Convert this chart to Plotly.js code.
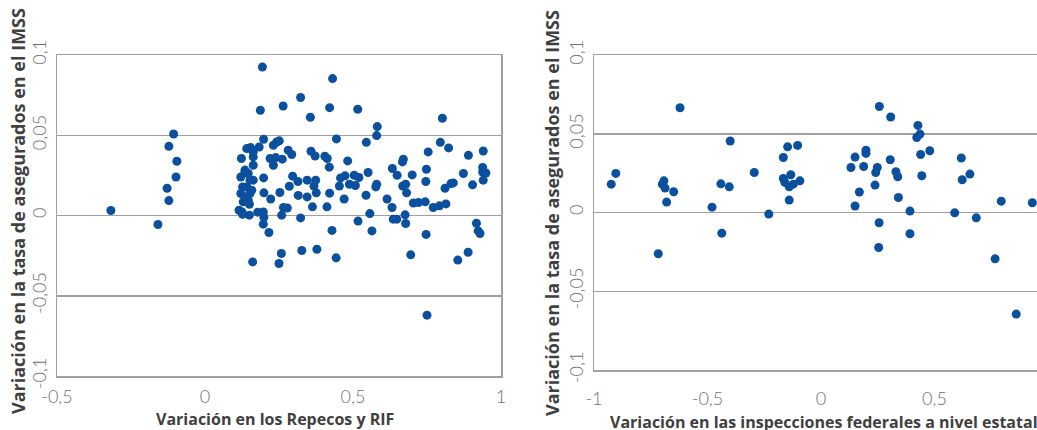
<!DOCTYPE html>
<html><head><meta charset="utf-8">
<script src="https://cdn.plot.ly/plotly-3.0.1.min.js"></script>
<style>html,body{margin:0;padding:0;overflow:hidden;background:#fff;width:1037px;height:430px}#chart{width:1060px;height:430px}</style>
</head><body><div id="chart"></div>
<script>
// Left panel: Variación en los Repecos y RIF vs variación en la tasa de asegurados IMSS
const leftX = [-0.318,-0.159,-0.106,-0.122,-0.095,-0.098,-0.128,-0.122,
0.194,0.431,0.323,0.264,0.187,0.421,0.516,0.356,0.802,0.582,0.580,0.444,0.198,0.545,0.795,0.823,0.940,0.754,0.890,
0.231,0.242,0.251,0.141,0.154,0.163,0.183,0.281,0.293,0.358,0.372,0.405,0.413,0.123,0.163,0.220,0.239,0.261,0.231,0.163,
0.420,0.482,0.670,0.667,0.633,0.748,0.938,0.938,0.949,0.940,0.873,0.551,0.649,0.700,0.296,0.314,0.345,0.374,0.368,0.376,
0.458,0.473,0.504,0.520,0.454,0.488,0.508,0.580,0.577,0.668,0.678,0.746,0.831,0.839,0.811,0.904,0.285,0.198,0.199,0.253,
0.222,0.315,0.345,0.421,0.470,0.544,0.681,0.615,0.632,0.704,0.721,0.744,0.771,0.792,0.814,0.363,0.412,0.265,0.278,0.259,
0.178,0.197,0.125,0.150,0.199,0.197,0.323,0.557,0.676,0.636,0.648,0.678,0.517,0.917,0.923,0.929,0.216,0.429,0.564,0.747,
0.161,0.250,0.258,0.327,0.378,0.443,0.695,0.854,0.889,0.750,
0.121,0.135,0.146,0.163,0.127,0.141,0.152,0.121,0.135,0.146,0.129,0.150,0.115,0.127,0.135,0.152,0.158];
const leftY = [0.0031,-0.0056,0.0508,0.0431,0.0338,0.0240,0.0170,0.0093,
0.0925,0.0853,0.0735,0.0682,0.0656,0.0672,0.0662,0.0612,0.0606,0.0554,0.0498,0.0477,0.0475,0.0456,0.0456,0.0421,0.0402,0.0396,0.0375,
0.0438,0.0458,0.0465,0.0417,0.0423,0.0396,0.0427,0.0407,0.0380,0.0400,0.0371,0.0369,0.0355,0.0355,0.0365,0.0355,0.0361,0.0351,0.0313,0.0313,
0.0301,0.0340,0.0351,0.0334,0.0293,0.0288,0.0299,0.0271,0.0265,0.0220,0.0262,0.0268,0.0251,0.0253,0.0245,0.0212,0.0220,0.0220,0.0184,0.0141,
0.0234,0.0247,0.0251,0.0237,0.0184,0.0195,0.0187,0.0195,0.0178,0.0184,0.0195,0.0212,0.0199,0.0203,0.0170,0.0191,0.0182,0.0234,0.0141,0.0143,
0.0103,0.0125,0.0116,0.0139,0.0103,0.0126,0.0141,0.0103,0.0050,0.0078,0.0081,0.0085,0.0050,0.0060,0.0072,0.0054,0.0054,0.0050,0.0047,0.0002,
0.0021,0.0022,0.0022,0.0002,-0.0012,-0.0054,-0.0015,0.0012,0.0004,-0.0023,-0.0023,-0.0050,-0.0035,-0.0048,-0.0096,-0.0112,-0.0106,-0.0093,-0.0096,-0.0118,
-0.0289,-0.0299,-0.0237,-0.0218,-0.0210,-0.0264,-0.0245,-0.0278,-0.0229,-0.0621,
0.0240,0.0271,0.0262,0.0220,0.0178,0.0178,0.0137,0.0137,0.0116,0.0095,0.0085,0.0070,0.0033,0.0008,0.0283,0.0220,0.0158];

// Right panel: Variación en las inspecciones federales a nivel estatal
const rightX = [-0.924,-0.904,-0.621,-0.400,-0.699,-0.692,-0.687,-0.649,-0.680,-0.480,-0.437,-0.441,-0.404,-0.294,-0.230,
-0.166,-0.147,-0.103,-0.133,-0.166,-0.159,-0.140,-0.122,-0.093,-0.140,
0.257,0.307,0.427,0.436,0.422,0.198,0.198,0.150,0.132,0.188,0.248,0.241,0.305,0.330,0.338,0.238,0.169,0.150,0.341,0.392,
0.256,0.392,0.439,0.479,0.444,0.618,0.656,0.622,0.589,0.684,0.794,0.931,-0.717,0.254,0.767,0.860];
const rightY = [0.0180,0.0248,0.0665,0.0454,0.0180,0.0201,0.0155,0.0132,0.0066,0.0034,-0.0131,0.0182,0.0163,0.0254,-0.0010,
0.0349,0.0417,0.0426,0.0240,0.0216,0.0191,0.0163,0.0180,0.0201,0.0079,
0.0673,0.0606,0.0553,0.0498,0.0476,0.0396,0.0375,0.0352,0.0286,0.0292,0.0286,0.0254,0.0335,0.0259,0.0227,0.0174,0.0130,0.0041,0.0095,0.0009,
-0.0065,-0.0135,0.0368,0.0392,0.0233,0.0346,0.0244,0.0208,-0.0002,-0.0034,0.0072,0.0062,-0.0262,-0.0222,-0.0294,-0.0645];

const yTickVals = [-0.1,-0.05,0,0.05,0.1];
const yTickText = ['-0,1','-0,05','0','0,05','0,1'];
const leftXTickVals = [-0.5,0,0.5,1];
const leftXTickText = ['-0,5','0','0,5','1'];
const rightXTickVals = [-1,-0.5,0,0.5,1];
const rightXTickText = ['-1','-0,5','0','0,5','1'];

const yTitle = 'Variación en la tasa de asegurados en el IMSS';
const leftXTitle = 'Variación en los Repecos y RIF';
const rightXTitle = 'Variación en las inspecciones federales a nivel estatal';

const W = 1060, H = 430;
const blue = '#0a509e';
const grid = '#a0a0a0';
const tickFont = {family:'Lato, "Open Sans", sans-serif', size:18, color:'#707070', weight:300};
const yTitleFont = {family:'"Open Sans", Lato, sans-serif', size:18, color:'#404040', weight:700};
const xTitleFont = {family:'"Open Sans", Lato, sans-serif', size:16, color:'#404040', weight:700};

const traces = [
  {type:'scatter', mode:'markers', x:leftX, y:leftY, xaxis:'x', yaxis:'y',
   marker:{color:blue, size:9}, hoverinfo:'x+y'},
  {type:'scatter', mode:'markers', x:rightX, y:rightY, xaxis:'x2', yaxis:'y2',
   marker:{color:blue, size:9}, hoverinfo:'x+y'}
];

function yAx(domain, anchor){
  return {domain:domain, anchor:anchor, range:[-0.1,0.1], tickvals:yTickVals, ticktext:yTickText,
    tickangle:-90, tickfont:tickFont, showgrid:true, gridcolor:grid, gridwidth:1.5,
    zeroline:false, showline:true, linecolor:grid, linewidth:1.5, mirror:true, ticks:'',
    ticklabelstandoff:2};
}
function xAx(domain, anchor, range, vals, text, standoff){
  return {domain:domain, anchor:anchor, range:range, tickvals:vals, ticktext:text,
    tickfont:tickFont, showgrid:false, zeroline:false, showline:true, linecolor:grid,
    linewidth:1.5, mirror:true, ticks:'', tickangle:0, ticklabelstandoff:standoff};
}

const layout = {
  width:W, height:H, margin:{l:0,r:0,t:0,b:0,pad:0},
  paper_bgcolor:'#fff', plot_bgcolor:'#fff', showlegend:false,
  xaxis: xAx([57/W, 501/W], 'y', [-0.5,1], leftXTickVals, leftXTickText, 4),
  yaxis: yAx([1-376/H, 1-55/H], 'x'),
  xaxis2: xAx([594/W, 1048/W], 'y2', [-1,1], rightXTickVals, rightXTickText, 12),
  yaxis2: yAx([1-370/H, 1-55/H], 'x2'),
  annotations:[
    {text:yTitle, xref:'paper', yref:'paper', x:18/W, y:1-211/H, textangle:-90,
     xanchor:'center', yanchor:'middle', showarrow:false, font:yTitleFont},
    {text:yTitle, xref:'paper', yref:'paper', x:552/W, y:1-213/H, textangle:-90,
     xanchor:'center', yanchor:'middle', showarrow:false, font:yTitleFont},
    {text:leftXTitle, xref:'paper', yref:'paper', x:275/W, y:1-419/H,
     xanchor:'center', yanchor:'middle', showarrow:false, font:xTitleFont},
    {text:rightXTitle, xref:'paper', yref:'paper', x:824/W, y:1-422/H,
     xanchor:'center', yanchor:'middle', showarrow:false, font:xTitleFont}
  ]
};
Plotly.newPlot('chart', traces, layout, {displayModeBar:false, staticPlot:true});
</script></body></html>
